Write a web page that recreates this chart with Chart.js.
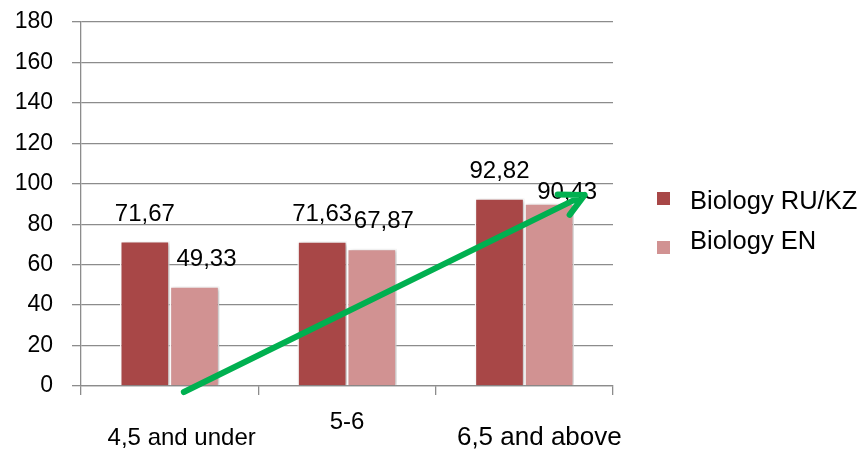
<!DOCTYPE html>
<html>
<head>
<meta charset="utf-8">
<script src="https://cdn.jsdelivr.net/npm/chart.js@4.4.0/dist/chart.umd.min.js"></script>
<style>
    html, body { margin: 0; padding: 0; background: #fff; }
    #wrap { width: 866px; height: 451px; position: relative; }
</style>
</head>
<body>
<div id="wrap"><canvas id="bioChart"></canvas></div>
<script>
const categories = ['4,5 and under', '5-6', '6,5 and above'];
const seriesNames = ['Biology RU/KZ', 'Biology EN'];
const ruKzScores = [71.67, 71.63, 92.82];
const enScores = [49.33, 67.87, 90.43];
const yTicks = [0, 20, 40, 60, 80, 100, 120, 140, 160, 180];
// trend arrow ends, in data units (category index, score)
const arrowFrom = [0.08, -3];
const arrowTo = [2.34, 94.5];

const FONT = "'Liberation Sans', Arial, sans-serif";
const GRID = '#8c8c8c';
const DARK = '#a84747';
const LIGHT = '#d19292';

function fmt(v) {
    return v.toFixed(2).replace('.', ',');
}

const barShadow = {
    id: 'barShadow',
    beforeDatasetDraw(chart) {
        const ctx = chart.ctx;
        ctx.save();
        ctx.shadowColor = 'rgba(0,0,0,0.25)';
        ctx.shadowBlur = 4;
        ctx.shadowOffsetX = 2;
        ctx.shadowOffsetY = 1;
    },
    afterDatasetDraw(chart) {
        chart.ctx.restore();
    }
};

const valueLabels = {
    id: 'valueLabels',
    afterDatasetsDraw(chart) {
        const ctx = chart.ctx;
        ctx.save();
        ctx.font = '24px ' + FONT;
        ctx.fillStyle = '#000';
        ctx.textAlign = 'center';
        ctx.textBaseline = 'middle';
        chart.data.datasets.forEach((ds, di) => {
            chart.getDatasetMeta(di).data.forEach((bar, i) => {
                let dx = di == 0 ? 0 : 12;
                let dy = 27;
                if (di == 1 && i == 2) { dx = 18; dy = 11; }
                ctx.fillText(fmt(ds.data[i]), bar.x + dx, bar.y - dy);
            });
        });
        ctx.restore();
    }
};

const sideText = {
    id: 'sideText',
    afterDraw(chart) {
        const ctx = chart.ctx;
        const area = chart.chartArea;
        const xs = chart.scales.x;
        ctx.save();
        ctx.fillStyle = '#000';
        ctx.textBaseline = 'middle';

        // staggered category labels
        ctx.textAlign = 'center';
        const shift = [[12, 52, 24], [0, 36, 24], [15, 52, 26]];
        categories.forEach((c, i) => {
            ctx.font = shift[i][2] + 'px ' + FONT;
            ctx.fillText(c, xs.getPixelForValue(i) + shift[i][0], area.bottom + shift[i][1]);
        });

        // legend
        ctx.font = '25.5px ' + FONT;
        ctx.textAlign = 'left';
        chart.data.datasets.forEach((ds, i) => {
            const y = area.top + 180 + i * 40;
            ctx.fillStyle = ds.backgroundColor;
            ctx.fillRect(area.right + 44, y - 10 + i * 9, 13, 13);
            ctx.fillStyle = '#000';
            ctx.fillText(ds.label, area.right + 77, y);
        });

        // green trend arrow
        const ys = chart.scales.y;
        const x1 = xs.getPixelForValue(arrowFrom[0]), y1 = ys.getPixelForValue(arrowFrom[1]);
        const x2 = xs.getPixelForValue(arrowTo[0]), y2 = ys.getPixelForValue(arrowTo[1]);
        const ang = Math.atan2(y1 - y2, x1 - x2);
        ctx.strokeStyle = '#00b050';
        ctx.lineWidth = 6;
        ctx.lineCap = 'round';
        ctx.lineJoin = 'round';
        ctx.beginPath();
        ctx.moveTo(x1, y1);
        ctx.lineTo(x2, y2);
        ctx.moveTo(x2 + 27 * Math.cos(ang + 0.47), y2 + 27 * Math.sin(ang + 0.47));
        ctx.lineTo(x2, y2);
        ctx.lineTo(x2 + 25 * Math.cos(ang - 0.47), y2 + 25 * Math.sin(ang - 0.47));
        ctx.stroke();
        ctx.restore();
    }
};

Chart.defaults.font.family = FONT;
Chart.defaults.color = '#000';

new Chart(document.getElementById('bioChart').getContext('2d'), {
    type: 'bar',
    data: {
        labels: categories,
        datasets: [{
            label: seriesNames[0],
            data: ruKzScores,
            backgroundColor: DARK,
            borderColor: '#fff',
            borderWidth: 1.5
        }, {
            label: seriesNames[1],
            data: enScores,
            backgroundColor: LIGHT,
            borderColor: '#fff',
            borderWidth: 1.5
        }]
    },
    options: {
        responsive: true,
        maintainAspectRatio: false,
        animation: false,
        layout: {
            padding: { left: 15, top: 22, right: 253, bottom: 56 }
        },
        datasets: {
            bar: { barPercentage: 1, categoryPercentage: 0.56 }
        },
        scales: {
            x: {
                grid: {
                    offset: true,
                    drawOnChartArea: false,
                    drawTicks: true,
                    tickLength: 9,
                    color: GRID,
                    lineWidth: 1.3
                },
                border: { display: true, color: GRID, width: 1.3 },
                ticks: { display: false }
            },
            y: {
                min: 0,
                max: 180,
                afterBuildTicks: axis => {
                    axis.ticks = yTicks.map(v => ({ value: v }));
                },
                afterFit: axis => {
                    axis.width = 66;
                    axis.paddingTop = 0;
                    axis.paddingBottom = 0;
                },
                grid: {
                    color: GRID,
                    lineWidth: 1.3,
                    tickLength: 9
                },
                border: { display: true, color: GRID, width: 1.3 },
                ticks: {
                    padding: 19,
                    font: { size: 23 },
                    color: '#000'
                }
            }
        },
        plugins: {
            legend: { display: false },
            tooltip: { enabled: false }
        }
    },
    plugins: [barShadow, valueLabels, sideText]
});
</script>
</body>
</html>
